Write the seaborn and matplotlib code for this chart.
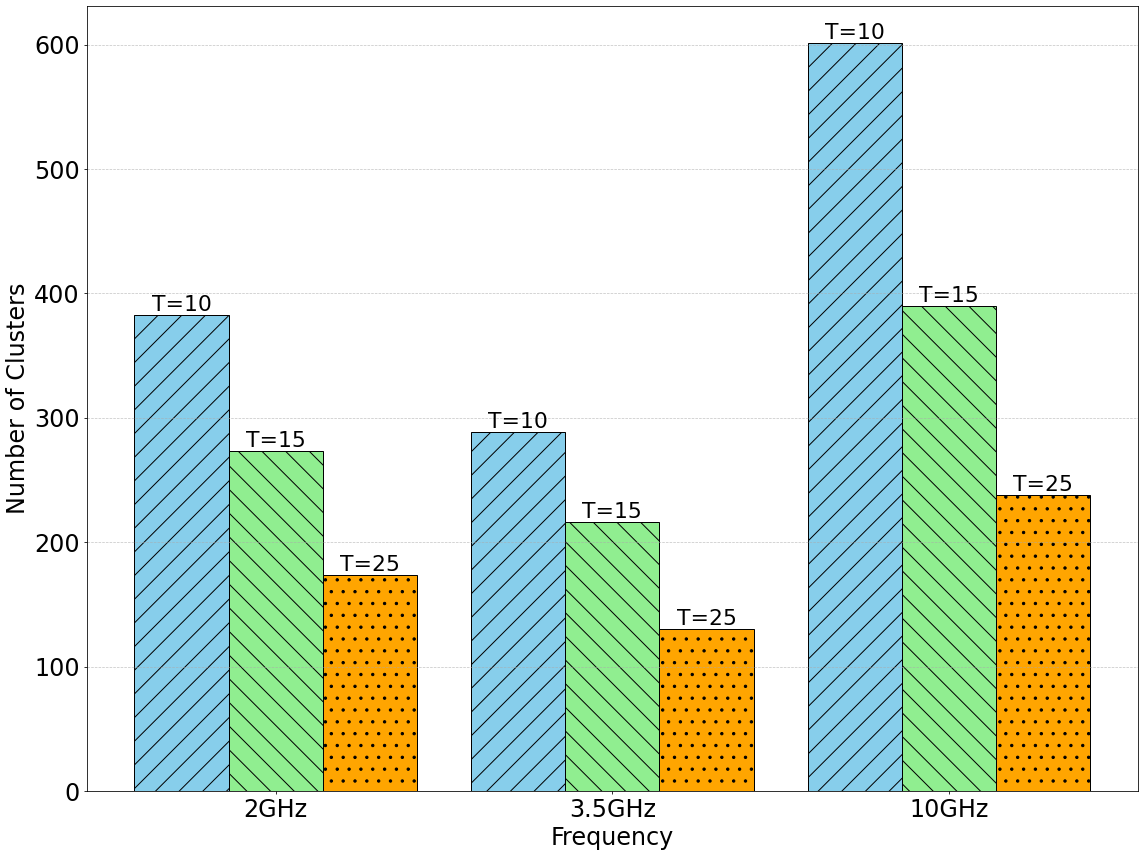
import pandas as pd
import matplotlib
matplotlib.use("Agg")
import matplotlib.pyplot as plt
import seaborn as sns

# Values
frequencies = ["2GHz", "3.5GHz", "10GHz"]
thresholds = ["T=10", "T=15", "T=25"]
clusters_t10 = [383, 289, 601]
clusters_t15 = [273, 216, 390]
clusters_t25 = [174, 130, 238]

colors = ["skyblue", "lightgreen", "orange"]
hatches = ["/", "\\", "."]

rows = []
for t, vals in zip(thresholds, [clusters_t10, clusters_t15, clusters_t25]):
    for f, v in zip(frequencies, vals):
        rows.append({"Frequency": f, "Threshold": t, "Clusters": v})
df = pd.DataFrame(rows)

DPI = 71.5
fig, ax = plt.subplots(figsize=(1144 / DPI, 856 / DPI), dpi=DPI)
sns.barplot(data=df, x="Frequency", y="Clusters", hue="Threshold",
            order=frequencies, hue_order=thresholds, palette=colors,
            width=0.84, gap=0, edgecolor="black", linewidth=1.0,
            errorbar=None, legend=False, saturation=1, ax=ax)

for container, hatch, label in zip(ax.containers, hatches, thresholds):
    for bar in container:
        bar.set_hatch(hatch)
        bar.set_edgecolor("black")
        bar.set_zorder(1)  # keep the dashed grid drawn over the bars
    ax.bar_label(container, labels=[label] * len(container), fontsize=22, padding=0)

# matplotlib-style 5% margins around the bar groups
ax.set_xlim(-0.42 - 0.142, len(frequencies) - 1 + 0.42 + 0.142)

ax.set_axisbelow("line")
ax.grid(axis="y", linestyle="--", linewidth=0.7, color="#aaaaaa", alpha=0.7, zorder=1.5)
ax.set_xlabel("Frequency", fontsize=24)
ax.set_ylabel("Number of Clusters", fontsize=24)
ax.tick_params(axis="both", labelsize=24)

plt.tight_layout(pad=0.6)
plt.savefig("out.png", dpi=DPI)
